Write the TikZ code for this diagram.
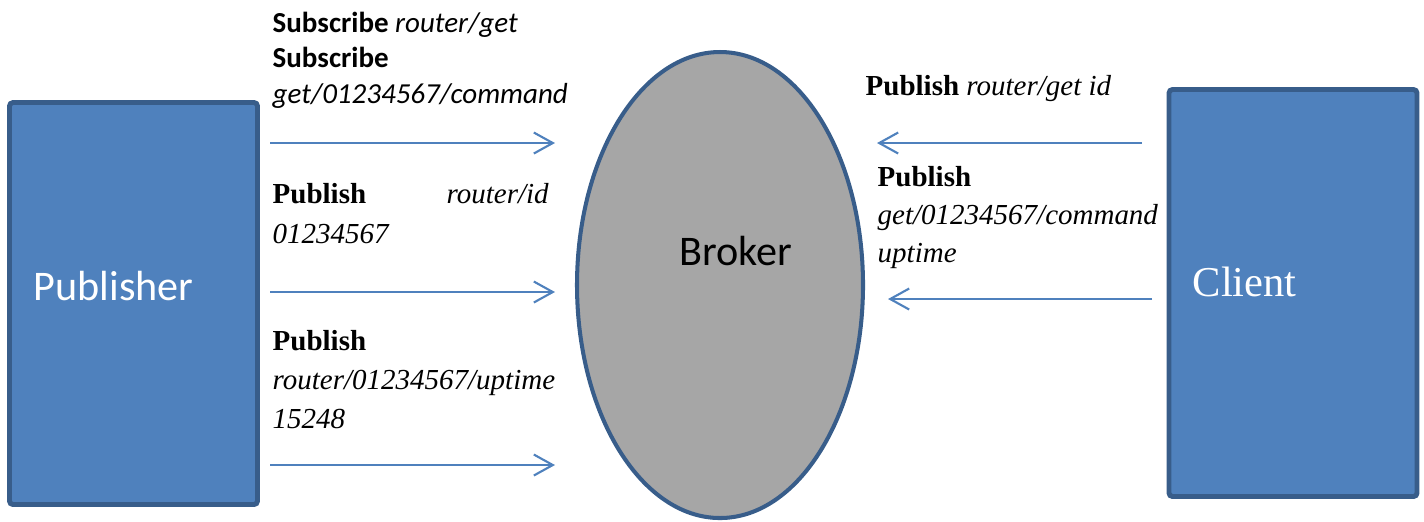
\documentclass[tikz,border=0pt]{standalone}
\usepackage{fontspec}
\setmainfont{Liberation Serif}
\newfontfamily\calibri{Carlito}
\usepackage{xcolor}
\usetikzlibrary{arrows.meta,shapes.geometric}
\definecolor{azul}{HTML}{4F81BD}
\definecolor{azulborda}{HTML}{385D8A}
\definecolor{cinza}{HTML}{A6A6A6}
\tikzset{
    caixa/.style={
        rectangle,
        draw=azulborda,
        fill=azul,
        line width=1.4pt,
        rounded corners=1pt,
        minimum width=2.48cm,
        minimum height=4.02cm,
        inner sep=0pt
    },
    servidor/.style={
        ellipse,
        draw=azulborda,
        fill=cinza,
        line width=1.15pt,
        minimum width=2.86cm,
        minimum height=4.66cm,
        inner sep=0pt
    },
    nome/.style={anchor=base west, inner sep=0pt},
    legenda/.style={
        anchor=base west,
        inner sep=0pt,
        align=left,
        font=\fontsize{8.25}{11}\selectfont
    },
    seta/.style={-{Straight Barb[length=1.9mm, width=2.1mm]}, line width=0.6pt, draw=azul}
}

\begin{document}
\begin{tikzpicture}
        \useasboundingbox (0,0) rectangle (14.24,-5.21);

        \node[caixa] (pub) at (1.335,-3.035) {};
        \node[caixa, minimum height=4.07cm] (cli) at (12.93,-2.93) {};
        \node[servidor] (broker) at (7.20,-2.85) {};

        \node[nome, text=white, font=\fontsize{12}{14}\selectfont\calibri] (pubtxt) at (0.33,-3.00)
        {Publisher};
        \node[nome, font=\fontsize{12}{14}\selectfont\calibri] (brokertxt) at (6.79,-2.65)
        {Broker};
        \node[nome, text=white, font=\fontsize{12.1}{14}\selectfont] (clitxt) at (11.92,-2.96)
        {Client};

        % publicador -> broker (base = ultima linha)
        \node[legenda, font=\fontsize{8.25}{10.1}\selectfont\calibri] (sub) at (2.72,-1.03)
        {\textbf{Subscribe} \textit{router/get}\\
         \textbf{Subscribe}\\
         \textit{get/01234567/command}};

        % com text width a base fica na primeira linha
        \node[legenda, text width=2.76cm, font=\fontsize{8.25}{11.4}\selectfont] (pubid) at (2.72,-2.03)
        {\textbf{Publish}\hfill\textit{router/id}\\
         \textit{01234567}};

        \node[legenda] (pubup) at (2.72,-4.28)
        {\textbf{Publish}\\
         \textit{router/01234567/uptime}\\
         \textit{15248}};

        % cliente -> broker
        \node[legenda] (getid) at (8.65,-0.95)
        {\textbf{Publish} \textit{router/get id}};

        \node[legenda, font=\fontsize{8.25}{10.7}\selectfont] (cmd) at (8.77,-2.62)
        {\textbf{Publish}\\
         \textit{get/01234567/command}\\
         \textit{uptime}};

        \coordinate (s1) at (2.70,-1.43);
        \coordinate (e1) at (5.55,-1.43);
        \coordinate (s2) at (2.70,-2.92);
        \coordinate (e2) at (5.55,-2.92);
        \coordinate (s3) at (2.70,-4.65);
        \coordinate (e3) at (5.55,-4.65);
        \coordinate (s4) at (11.42,-1.43);
        \coordinate (e4) at (8.77,-1.43);
        \coordinate (s5) at (11.52,-2.99);
        \coordinate (e5) at (8.88,-2.99);

        \draw[seta] (s1) -- (e1);
        \draw[seta] (s2) -- (e2);
        \draw[seta] (s3) -- (e3);
        \draw[seta] (s4) -- (e4);
        \draw[seta] (s5) -- (e5);

    \end{tikzpicture}
\end{document}
